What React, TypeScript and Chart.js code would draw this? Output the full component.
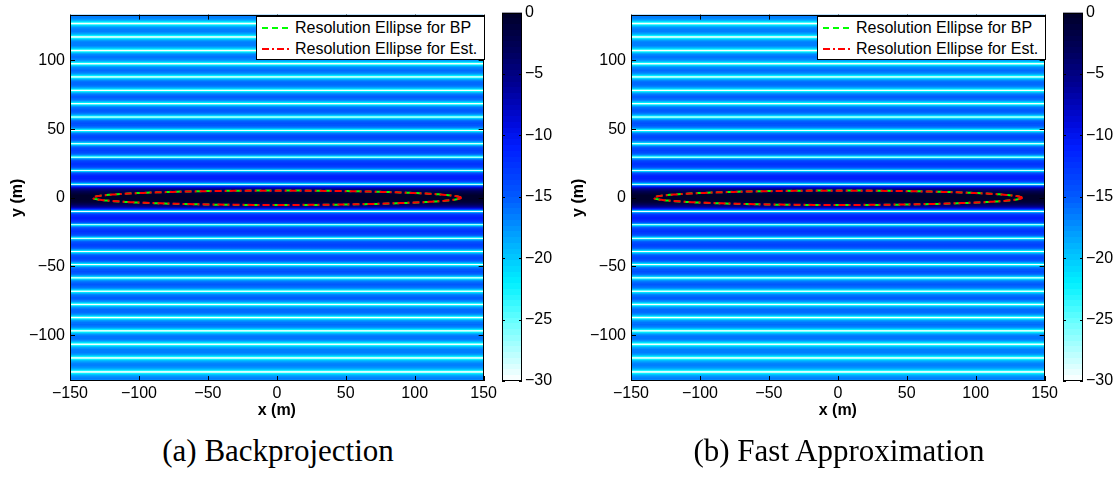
import React, { useEffect, useRef } from 'react';
import { Chart, registerables } from 'chart.js';
Chart.register(...registerables);

const SANS = '"Liberation Sans", Arial, Helvetica, sans-serif';
const SERIF = '"Liberation Serif", "Times New Roman", serif';

// ---- axes ----
const xTickValues = [-150, -100, -50, 0, 50, 100, 150];
const yTickValues = [-100, -50, 0, 50, 100];
const cbTickValues = [-30, -25, -20, -15, -10, -5, 0];
const xLimits = [-150, 150];
const yLimits = [-133.4, 133.4];
const dbLimits = [-30, 0];

// ---- image profile (range direction y) ----
// positions of the nulls (bright lines), metres
const nullsUpper = [9.9, 19.7, 29.6, 39.3, 49.0, 58.8, 68.5, 78.2, 88.0, 97.6, 107.2, 117.1, 126.9, 136.6];
const nullsLower = [-9.9, -19.6, -29.4, -39.1, -48.6, -58.3, -68.0, -77.6, -87.2, -96.9, -106.6, -116.6, -126.8, -136.6];
// peak level of each sidelobe between successive nulls, dB
const lobesUpper = [-11.0, -12.5, -13.5, -14.0, -14.5, -15.0, -15.3, -15.6, -15.9, -16.2, -16.4, -16.6, -16.8];
const lobesLower = [-11.0, -12.5, -13.5, -14.0, -14.5, -15.0, -15.3, -15.6, -15.9, -16.2, -16.4, -16.6, -16.8];
const mainLobePeak = 0;

// ---- resolution ellipses (centre, semi-axes in m) ----
const ellipseBP = { cx: 0, cy: 0, a: 133.4, b: 5.3 };
const ellipseEst = { cx: 0, cy: 0, a: 133.6, b: 5.2 };

const legendLabels = ['Resolution Ellipse for BP', 'Resolution Ellipse for Est.'];
const captions = ['(a) Backprojection', '(b) Fast Approximation'];

// ---- colormap (style) ----
const CMAP: number[][] = [
  [0, 0, 0, 40],
  [-3, 0, 0, 90],
  [-6, 0, 0, 150],
  [-9, 0, 10, 220],
  [-11, 0, 30, 255],
  [-15, 0, 90, 255],
  [-19, 0, 180, 255],
  [-22, 0, 240, 255],
  [-25, 100, 255, 255],
  [-30, 255, 255, 255],
];
const LEVELS = 64;

function dbColor(v: number): string {
  const lo = dbLimits[0], hi = dbLimits[1];
  let q = Math.max(lo, Math.min(hi, v));
  const idx = Math.min(LEVELS - 1, Math.floor(((q - lo) / (hi - lo)) * LEVELS));
  q = lo + ((idx + 0.5) * (hi - lo)) / LEVELS;
  for (let i = 0; i < CMAP.length - 1; i++) {
    const a = CMAP[i], b = CMAP[i + 1];
    if (q <= a[0] && q >= b[0]) {
      const t = (a[0] - q) / (a[0] - b[0]);
      const r = Math.round(a[1] + (b[1] - a[1]) * t);
      const g = Math.round(a[2] + (b[2] - a[2]) * t);
      const bl = Math.round(a[3] + (b[3] - a[3]) * t);
      return `rgb(${r},${g},${bl})`;
    }
  }
  return 'rgb(255,255,255)';
}

type Band = { low: number; high: number; peak: number };
function buildBands(): Band[] {
  const bands: Band[] = [{ low: nullsLower[0], high: nullsUpper[0], peak: mainLobePeak }];
  lobesUpper.forEach((p, i) => bands.push({ low: nullsUpper[i], high: nullsUpper[i + 1], peak: p }));
  lobesLower.forEach((p, i) => bands.push({ low: nullsLower[i + 1], high: nullsLower[i], peak: p }));
  return bands;
}

// vertical shading of one lobe: bright at the nulls, flat in the body
function bandGradient(chart: any, band: Band) {
  const { ctx, scales } = chart;
  const y = scales.y;
  const p0 = y.getPixelForValue(band.low);
  const p1 = y.getPixelForValue(band.high);
  const g = ctx.createLinearGradient(0, p0, 0, p1);
  const N = 64;
  const k = band.peak > -5 ? 20 : 12;
  for (let i = 0; i <= N; i++) {
    const t = i / N;
    const s = Math.sin(Math.PI * t);
    const v = s <= 1e-6 ? dbLimits[0] : band.peak + k * Math.log10(s);
    g.addColorStop(t, dbColor(v));
  }
  return g;
}

function ellipsePoints(e: { cx: number; cy: number; a: number; b: number }) {
  const pts: { x: number; y: number }[] = [];
  const n = 240;
  for (let i = 0; i <= n; i++) {
    const th = (2 * Math.PI * i) / n;
    pts.push({ x: e.cx + e.a * Math.cos(th), y: e.cy + e.b * Math.sin(th) });
  }
  return pts;
}

const fmt = (v: number) => String(v).replace('-', '\u2212');

const framePlugin = {
  id: 'frame',
  afterDatasetsDraw(chart: any, _args: any, opts: any) {
    const { ctx, chartArea, scales } = chart;
    const { left, right, top, bottom } = chartArea;
    const L = opts.len || 5;
    ctx.save();
    ctx.strokeStyle = '#000';
    ctx.lineWidth = 1;
    ctx.beginPath();
    if (opts.xTicks) {
      for (const t of scales.x.ticks) {
        const px = Math.round(scales.x.getPixelForValue(t.value)) + 0.5;
        ctx.moveTo(px, top);
        ctx.lineTo(px, top + L);
        ctx.moveTo(px, bottom);
        ctx.lineTo(px, bottom - L);
      }
    }
    for (const t of scales.y.ticks) {
      const py = Math.round(scales.y.getPixelForValue(t.value)) + 0.5;
      ctx.moveTo(left, py);
      ctx.lineTo(left + L, py);
      ctx.moveTo(right, py);
      ctx.lineTo(right - L, py);
    }
    ctx.stroke();
    ctx.strokeRect(Math.round(left) + 0.5, Math.round(top) + 0.5, Math.round(right - left) - 1, Math.round(bottom - top) - 1);
    ctx.restore();
  },
};

const TICK_FONT = { family: SANS, size: 16 };
const TITLE_FONT = { family: SANS, size: 16, weight: 'bold' };

function MainChart() {
  const ref = useRef<HTMLCanvasElement>(null);
  useEffect(() => {
    const bands = buildBands();
    const datasets: any[] = [
      {
        label: legendLabels[1],
        data: ellipsePoints(ellipseEst),
        borderColor: '#ff0000',
        borderWidth: 2,
        borderDash: [7, 3, 2, 3],
        pointRadius: 0,
        fill: false,
        order: 1,
      },
      {
        label: legendLabels[0],
        data: ellipsePoints(ellipseBP),
        borderColor: '#00ff00',
        borderWidth: 2,
        borderDash: [6, 4],
        pointRadius: 0,
        fill: false,
        order: 2,
      },
      ...bands.map((b) => ({
        label: 'band',
        data: [
          { x: xLimits[0], y: b.high },
          { x: xLimits[1], y: b.high },
        ],
        borderWidth: 0,
        borderColor: 'rgba(0,0,0,0)',
        showLine: false,
        pointRadius: 0,
        fill: { value: b.low },
        backgroundColor: (c: any) => (c.chart.chartArea ? bandGradient(c.chart, b) : dbColor(b.peak)),
        order: 10,
      })),
    ];
    const chart = new Chart(ref.current!, {
      type: 'line',
      data: { datasets },
      options: {
        animation: false,
        responsive: false,
        devicePixelRatio: 1,
        events: [],
        layout: { padding: { top: 11, right: 14, left: 0, bottom: 0 } },
        plugins: { legend: { display: false }, tooltip: { enabled: false }, frame: { xTicks: true, len: 5 } } as any,
        scales: {
          x: {
            type: 'linear',
            min: xLimits[0],
            max: xLimits[1],
            afterBuildTicks: (s: any) => {
              s.ticks = xTickValues.map((v) => ({ value: v }));
            },
            afterFit: (s: any) => {
              s.height = 49;
            },
            grid: { display: false, drawTicks: false },
            border: { display: false },
            ticks: { color: '#000', font: TICK_FONT, padding: 3, maxRotation: 0, autoSkip: false, callback: (v: any) => fmt(v) },
            title: { display: true, text: 'x (m)', color: '#000', font: TITLE_FONT, padding: { top: 0, bottom: 10 } },
          },
          y: {
            type: 'linear',
            min: yLimits[0],
            max: yLimits[1],
            afterBuildTicks: (s: any) => {
              s.ticks = yTickValues.map((v) => ({ value: v }));
            },
            afterFit: (s: any) => {
              s.width = 70;
            },
            grid: { display: false, drawTicks: false },
            border: { display: false },
            ticks: { color: '#000', font: TICK_FONT, padding: 5, autoSkip: false, callback: (v: any) => fmt(v) },
            title: { display: true, text: 'y (m)', color: '#000', font: TITLE_FONT, padding: { top: 8, bottom: 0 } },
          },
        },
      } as any,
      plugins: [framePlugin],
    });
    return () => chart.destroy();
  }, []);
  return <canvas ref={ref} width={500} height={430} style={{ position: 'absolute', left: 0, top: 0, width: 500, height: 430 }} />;
}

function ColorBar() {
  const ref = useRef<HTMLCanvasElement>(null);
  useEffect(() => {
    const chart = new Chart(ref.current!, {
      type: 'bar',
      data: {
        labels: ['dB'],
        datasets: [
          {
            data: [dbLimits as any],
            borderWidth: 0,
            barPercentage: 1,
            categoryPercentage: 1,
            backgroundColor: (c: any) => {
              const ch = c.chart;
              if (!ch.chartArea) return '#0000ff';
              const y = ch.scales.y;
              const p0 = y.getPixelForValue(dbLimits[0]);
              const p1 = y.getPixelForValue(dbLimits[1]);
              const g = ch.ctx.createLinearGradient(0, p0, 0, p1);
              const step = (dbLimits[1] - dbLimits[0]) / LEVELS;
              for (let i = 0; i < LEVELS; i++) {
                const col = dbColor(dbLimits[0] + (i + 0.5) * step);
                g.addColorStop(i / LEVELS, col);
                g.addColorStop((i + 1) / LEVELS, col);
              }
              return g;
            },
          },
        ],
      },
      options: {
        animation: false,
        responsive: false,
        devicePixelRatio: 1,
        events: [],
        layout: { padding: { top: 11, right: 0, left: 12, bottom: 49 } },
        plugins: { legend: { display: false }, tooltip: { enabled: false }, frame: { xTicks: false, len: 3 } } as any,
        scales: {
          x: { display: false },
          y: {
            position: 'right',
            min: dbLimits[0],
            max: dbLimits[1],
            afterBuildTicks: (s: any) => {
              s.ticks = cbTickValues.map((v) => ({ value: v }));
            },
            afterFit: (s: any) => {
              s.width = 38;
            },
            grid: { display: false, drawTicks: false },
            border: { display: false },
            ticks: { color: '#000', font: TICK_FONT, padding: 3, autoSkip: false, callback: (v: any) => fmt(v) },
          },
        },
      } as any,
      plugins: [framePlugin],
    });
    return () => chart.destroy();
  }, []);
  return <canvas ref={ref} width={70} height={430} style={{ position: 'absolute', left: 490, top: 0, width: 70, height: 430 }} />;
}

function Legend() {
  const row = (top: number, color: string, dash: string, text: string) => (
    <div style={{ position: 'absolute', left: 0, top, height: 20, width: '100%' }}>
      <svg width={30} height={6} style={{ position: 'absolute', left: 5, top: 7 }}>
        <line x1={0} y1={3} x2={29} y2={3} stroke={color} strokeWidth={2} strokeDasharray={dash} />
      </svg>
      <span style={{ position: 'absolute', left: 38, top: 0, lineHeight: '20px', fontSize: 16, fontFamily: SANS, color: '#000', whiteSpace: 'nowrap' }}>{text}</span>
    </div>
  );
  return (
    <div
      style={{
        position: 'absolute',
        left: 256,
        top: 16,
        width: 229,
        height: 44,
        boxSizing: 'border-box',
        border: '1px solid #000',
        background: '#fff',
      }}
    >
      {row(1, '#00ff00', '6 4', legendLabels[0])}
      {row(22, '#ff0000', '7 3 2 3', legendLabels[1])}
    </div>
  );
}

function Panel({ index }: { index: number }) {
  return (
    <div style={{ position: 'absolute', left: index * 561, top: 0, width: 557, height: 479 }}>
      <MainChart />
      <ColorBar />
      <Legend />
      <div
        style={{
          position: 'absolute',
          left: 0,
          top: 433,
          width: 556,
          textAlign: 'center',
          fontFamily: SERIF,
          fontSize: 31,
          lineHeight: '36px',
          color: '#000',
        }}
      >
        {captions[index]}
      </div>
    </div>
  );
}

export default function App() {
  useEffect(() => {
    document.body.style.margin = '0';
  }, []);
  return (
    <div style={{ position: 'absolute', left: 0, top: 0, width: 1118, height: 479, background: '#fff', overflow: 'hidden' }}>
      <Panel index={0} />
      <Panel index={1} />
    </div>
  );
}
